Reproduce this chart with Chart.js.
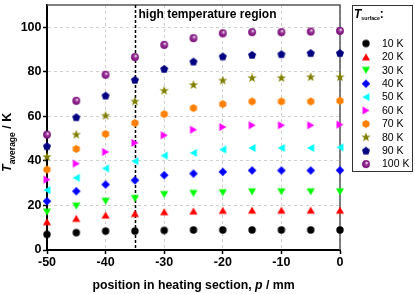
<!DOCTYPE html>
<html>
<head>
<meta charset="utf-8">
<script src="https://cdn.jsdelivr.net/npm/chart.js@4/dist/chart.umd.min.js"></script>
<style>
  html, body { margin: 0; padding: 0; background: #fff; }
  #wrap { width: 415px; height: 294px; }
</style>
</head>
<body>
<div id="wrap"><canvas id="chart" width="415" height="294"></canvas></div>
<script>
// Data
const positions = [-50, -45, -40, -35, -30, -25, -20, -15, -10, -5, 0];
const t10  = [7.0, 7.8, 8.5, 8.5, 8.8, 9.0, 9.0, 9.0, 9.0, 9.0, 9.0];
const t20  = [12.7, 14.2, 15.7, 16.4, 17.2, 17.5, 17.8, 17.9, 17.9, 17.9, 17.9];
const t30  = [17.0, 19.7, 21.9, 23.1, 24.9, 25.4, 25.7, 26.1, 26.1, 26.1, 26.1];
const t40  = [21.9, 26.4, 29.4, 31.3, 33.6, 34.3, 35.1, 35.7, 35.7, 35.7, 35.8];
const t50  = [26.9, 32.4, 36.6, 39.9, 42.4, 43.6, 45.1, 45.8, 45.8, 45.8, 46.1];
const t60  = [31.6, 38.8, 44.0, 48.1, 51.5, 54.0, 55.2, 56.0, 56.0, 56.0, 56.3];
const t70  = [36.1, 45.4, 52.1, 57.0, 61.0, 63.7, 65.5, 66.7, 66.7, 66.7, 67.0];
const t80  = [41.8, 51.8, 60.3, 66.7, 71.5, 74.1, 76.1, 77.2, 77.2, 77.6, 77.6];
const t90  = [46.6, 59.6, 69.3, 76.4, 81.3, 84.6, 86.9, 87.6, 87.9, 88.4, 88.4];
const t100 = [51.8, 67.0, 78.7, 86.6, 92.1, 95.1, 97.3, 97.8, 97.8, 98.1, 98.4];
const seriesLabels = ['10 K', '20 K', '30 K', '40 K', '50 K', '60 K', '70 K', '80 K', '90 K', '100 K'];
const xTicks = [-50, -40, -30, -20, -10, 0];
const yTicks = [0, 20, 40, 60, 80, 100];
const regionEdge = -35;

const FONT = '"Liberation Sans", Arial, sans-serif';

// Marker drawing
function polyPath(g, n, r, start) {
    for (let i = 0; i < n; i++) {
        const a = start + i * 2 * Math.PI / n;
        const px = r * Math.cos(a), py = r * Math.sin(a);
        if (i === 0) g.moveTo(px, py); else g.lineTo(px, py);
    }
    g.closePath();
}

function makeMarker(shape, color) {
    const c = document.createElement('canvas');
    c.width = 14; c.height = 14;
    const g = c.getContext('2d');
    g.translate(7, 7);
    g.fillStyle = color;
    g.beginPath();
    const tri = (rot) => {
        g.save();
        g.rotate(rot);
        g.translate(0, 1.1);
        g.beginPath();
        polyPath(g, 3, 4.7, -Math.PI / 2);
        g.fill();
        g.restore();
    };
    if (shape === 'circle') {
        g.arc(0, 0, 3.7, 0, Math.PI * 2);
        g.fill();
    } else if (shape === 'up') {
        tri(0);
    } else if (shape === 'down') {
        tri(Math.PI);
    } else if (shape === 'left') {
        tri(-Math.PI / 2);
    } else if (shape === 'right') {
        tri(Math.PI / 2);
    } else if (shape === 'diamond') {
        polyPath(g, 4, 4.3, -Math.PI / 2);
        g.fill();
    } else if (shape === 'hexagon') {
        polyPath(g, 6, 4.1, -Math.PI / 2);
        g.fill();
    } else if (shape === 'star') {
        for (let i = 0; i < 10; i++) {
            const a = -Math.PI / 2 + i * Math.PI / 5;
            const r = i % 2 === 0 ? 4.9 : 2.0;
            if (i === 0) g.moveTo(r * Math.cos(a), r * Math.sin(a));
            else g.lineTo(r * Math.cos(a), r * Math.sin(a));
        }
        g.closePath();
        g.translate(0, 0.4);
        g.fill();
    } else if (shape === 'pentagon') {
        g.translate(0, 0.3);
        polyPath(g, 5, 4.2, -Math.PI / 2);
        g.fill();
    } else if (shape === 'sphere') {
        const grad = g.createRadialGradient(0.9, -1.3, 0.2, 0, 0, 4);
        grad.addColorStop(0, '#ffffff');
        grad.addColorStop(0.35, '#a040a0');
        grad.addColorStop(1, '#700070');
        g.fillStyle = grad;
        g.arc(0, 0, 3.9, 0, Math.PI * 2);
        g.fill();
    }
    return c;
}

const seriesData = [t10, t20, t30, t40, t50, t60, t70, t80, t90, t100];
const shapes = ['circle', 'up', 'down', 'diamond', 'left', 'right', 'hexagon', 'star', 'pentagon', 'sphere'];
const colors = ['#000000', '#ff0000', '#00ff00', '#0000ff', '#00ffff', '#ff00ff', '#ff8000', '#808000', '#000080', '#800080'];
const markers = shapes.map((s, i) => makeMarker(s, colors[i]));

const datasets = seriesData.map((vals, i) => ({
    label: seriesLabels[i],
    data: positions.map((p, j) => ({ x: p, y: vals[j] })),
    pointStyle: markers[i],
    pointRadius: 4,
    pointHoverRadius: 4,
    showLine: false,
    clip: false,
    backgroundColor: colors[i],
    borderColor: colors[i]
}));

// Extra drawing: frame, region line, titles, legend
const overlay = {
    id: 'overlay',
    beforeDatasetsDraw(chart) {
        const ctx = chart.ctx;
        const a = chart.chartArea;
        const xs = chart.scales.x;
        ctx.save();
        // top and right frame
        ctx.strokeStyle = '#555';
        ctx.lineWidth = 1.5;
        ctx.beginPath();
        ctx.moveTo(a.left, a.top);
        ctx.lineTo(a.right, a.top);
        ctx.lineTo(a.right, a.bottom);
        ctx.stroke();
        // region line
        const px = Math.round(xs.getPixelForValue(regionEdge)) + 0.5;
        ctx.strokeStyle = '#000';
        ctx.lineWidth = 1.5;
        ctx.setLineDash([3, 2]);
        ctx.beginPath();
        ctx.moveTo(px, a.top);
        ctx.lineTo(px, a.bottom);
        ctx.stroke();
        ctx.setLineDash([]);
        ctx.fillStyle = '#000';
        ctx.font = 'bold 12px ' + FONT;
        ctx.textBaseline = 'middle';
        ctx.textAlign = 'left';
        ctx.fillText('high temperature region', px + 3, 14.5);
        ctx.restore();
    },
    afterDraw(chart) {
        const ctx = chart.ctx;
        const a = chart.chartArea;
        ctx.save();
        ctx.fillStyle = '#000';
        ctx.textBaseline = 'alphabetic';
        ctx.textAlign = 'left';

        // x title
        const parts = [
            ['bold 12.3px ' + FONT, 'position in heating section, '],
            ['italic bold 12.3px ' + FONT, 'p'],
            ['bold 12.3px ' + FONT, ' / mm']
        ];
        let total = 0;
        parts.forEach(p => { ctx.font = p[0]; total += ctx.measureText(p[1]).width; });
        let x = (a.left + a.right) / 2 - total / 2;
        parts.forEach(p => {
            ctx.font = p[0];
            ctx.fillText(p[1], x, 289);
            x += ctx.measureText(p[1]).width;
        });

        // y title (rotated)
        ctx.save();
        ctx.translate(10.5, 172);
        ctx.rotate(-Math.PI / 2);
        let yx = 0;
        ctx.font = 'italic bold 12.5px ' + FONT;
        ctx.fillText('T', yx, 0);
        yx += ctx.measureText('T').width;
        ctx.font = 'bold 8.5px ' + FONT;
        ctx.fillText('average', yx, 4.5);
        yx += ctx.measureText('average').width;
        ctx.font = 'bold 12.5px ' + FONT;
        ctx.fillText(' / K', yx, 0);
        ctx.restore();

        // legend box
        ctx.strokeStyle = '#333';
        ctx.lineWidth = 1;
        ctx.strokeRect(352.5, 5.5, 60, 166);
        let lx = 354;
        ctx.font = 'italic bold 12px ' + FONT;
        ctx.fillText('T', lx, 18);
        lx += ctx.measureText('T').width;
        ctx.font = 'bold 5.2px ' + FONT;
        ctx.fillText('surface', lx, 20);
        lx += ctx.measureText('surface').width;
        ctx.font = 'bold 12px ' + FONT;
        ctx.fillText(':', lx, 18);

        ctx.font = '10.5px ' + FONT;
        ctx.textBaseline = 'middle';
        seriesLabels.forEach((lab, i) => {
            const ly = 43.5 + i * 13.4;
            ctx.drawImage(markers[i], 366 - 7, ly - 7);
            ctx.fillText(lab, 382, ly + 0.5);
        });
        ctx.restore();
    }
};

const tickFont = { family: FONT, size: 12.5, weight: 'bold' };

new Chart(document.getElementById('chart'), {
    type: 'scatter',
    data: { datasets: datasets },
    options: {
        responsive: false,
        animation: false,
        events: [],
        layout: { padding: { left: 0, right: 75, top: 5, bottom: 0 } },
        plugins: { legend: { display: false }, tooltip: { enabled: false } },
        scales: {
            x: {
                type: 'linear',
                min: -50,
                max: 0,
                afterBuildTicks: (s) => { s.ticks = xTicks.map(v => ({ value: v })); },
                afterFit: (s) => { s.height = 44; s.paddingLeft = 0; s.paddingRight = 0; },
                ticks: { color: '#000', font: tickFont, padding: 1, maxRotation: 0 },
                grid: { color: '#d0d0d0', lineWidth: 1, tickColor: '#000', tickLength: 4, tickWidth: 1.5 },
                border: { color: '#000', width: 2, dash: [3, 3] }
            },
            y: {
                type: 'linear',
                min: 0,
                max: 110,
                afterBuildTicks: (s) => { s.ticks = yTicks.map(v => ({ value: v })); },
                afterFit: (s) => { s.width = 47; s.paddingTop = 0; s.paddingBottom = 0; },
                ticks: { color: '#000', font: tickFont, padding: 1.5 },
                grid: { color: '#d0d0d0', lineWidth: 1, tickColor: '#000', tickLength: 4, tickWidth: 1.5 },
                border: { color: '#000', width: 2, dash: [3, 3] }
            }
        }
    },
    plugins: [overlay]
});
</script>
</body>
</html>
